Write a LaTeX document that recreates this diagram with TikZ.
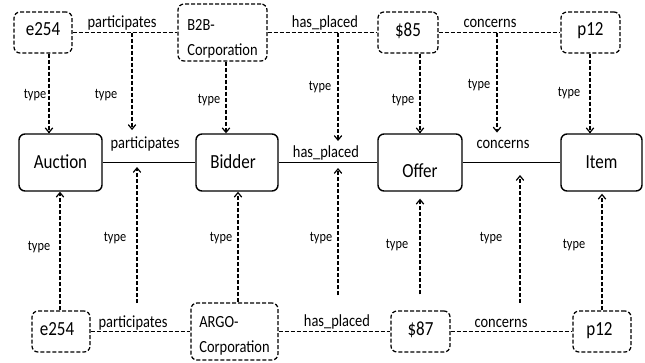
\documentclass[tikz,border=0pt]{standalone}
\usepackage{fontspec}
\setmainfont{Carlito}[FakeStretch=0.85]
\usetikzlibrary{arrows.meta,calc}
\newcommand{\bl}[2]{\raisebox{-#1}[0pt][0pt]{#2}}
\newcommand{\twol}[3]{\raisebox{#1}[0pt][0pt]{\begin{tabular}[t]{@{}l@{}}#2\\#3\end{tabular}}}
\begin{document}
\begin{tikzpicture}[x=1pt,y=-1pt,
  classbox/.style={draw, line width=1.4pt, rounded corners=6pt, inner sep=0pt, font=\fontsize{20}{24}\selectfont},
  instbox/.style={draw, line width=1.25pt, dash pattern=on 4pt off 2pt, rounded corners=6pt, inner sep=0pt, font=\fontsize{20}{24}\selectfont},
  corpfont/.style={font=\fontsize{17}{25}\selectfont},
  rel/.style={line width=1.3pt},
  instrel/.style={line width=1.25pt, dash pattern=on 4pt off 2pt},
  typearrow/.style={line width=1.25pt, dash pattern=on 4pt off 2pt, -{Straight Barb[length=4.5pt,width=7.5pt,line width=1.2pt]}},
  rellabel/.style={font=\fontsize{17}{20}\selectfont, inner sep=0pt, anchor=base},
  typelabel/.style={font=\fontsize{14.5}{17}\selectfont, inner sep=0pt}
]
\fill[white] (0,0) rectangle (645,362);
\useasboundingbox (0,0) rectangle (645,362);

% top instance row
\node[instbox, minimum width=58pt, minimum height=41pt] (e254t) at (43,32.5) {\bl{2.5pt}{e254}};
\node[instbox, corpfont, minimum width=89pt, minimum height=57pt] (b2b) at (222.5,32.5) {\twol{2.5pt}{B2B-}{Corporation}\hspace{6pt}};
\node[instbox, minimum width=60pt, minimum height=41pt] (p85) at (408,32.5) {\bl{3.5pt}{\$85}};
\node[instbox, minimum width=59pt, minimum height=41pt] (p12t) at (590.5,32.5) {\bl{2.5pt}{p12}};

% class row
\node[classbox, minimum width=83pt, minimum height=57pt] (auction) at (60.5,162.5) {\bl{5.5pt}{Auction}};
\node[classbox, minimum width=82pt, minimum height=57pt] (bidder) at (237,162.5) {\bl{5.5pt}{Bidder\hspace{8pt}}};
\node[classbox, minimum width=84pt, minimum height=57pt] (offer) at (420,162.5) {\bl{14.5pt}{Offer}};
\node[classbox, minimum width=81pt, minimum height=57pt] (item) at (601.5,162.5) {\bl{5.5pt}{Item}};

% bottom instance row
\node[instbox, minimum width=58pt, minimum height=41pt] (e254b) at (61,331.5) {\bl{3.5pt}{e254\hspace{8pt}}};
\node[instbox, corpfont, minimum width=87pt, minimum height=57pt] (argo) at (234.5,331.5) {\twol{4.5pt}{ARGO-}{Corporation}\hspace{4pt}};
\node[instbox, minimum width=59pt, minimum height=41pt] (p87) at (420.5,331.5) {\bl{3.5pt}{\$87}};
\node[instbox, minimum width=58pt, minimum height=41pt] (p12b) at (602,331.5) {\bl{3.5pt}{p12\hspace{5pt}}};

% connectors
\draw[instrel] (e254t) -- (b2b);
\draw[instrel] (b2b) -- (p85);
\draw[instrel] (p85) -- (p12t);
\draw[rel] (auction) -- (bidder);
\draw[rel] (bidder) -- (offer);
\draw[rel] (offer) -- (item);
\draw[instrel] (e254b) -- (argo);
\draw[instrel] (argo) -- (p87);
\draw[instrel] (p87) -- (p12b);

% relation labels
\node[rellabel] (plabT) at (122,27) {participates};
\node[rellabel] (hlabT) at (325,27) {has\_placed};
\node[rellabel] (clabT) at (490,27) {concerns};
\node[rellabel] (plabM) at (145,148) {participates};
\node[rellabel] (hlabM) at (326,157) {has\_placed};
\node[rellabel] (clabM) at (503,148) {concerns};
\node[rellabel] (plabB) at (133,327) {participates};
\node[rellabel] (hlabB) at (337,326) {has\_placed};
\node[rellabel] (clabB) at (501,327) {concerns};

% x positions of type arrows
\coordinate (t1) at (49,0);
\coordinate (t2) at (132,0);
\coordinate (t3) at (226,0);
\coordinate (t4) at (338,0);
\coordinate (t5) at (420,0);
\coordinate (t6) at (497,0);
\coordinate (t7) at (590,0);
\coordinate (b1) at (60,0);
\coordinate (b2) at (137,0);
\coordinate (b3) at (238,0);
\coordinate (b4) at (338,0);
\coordinate (b5) at (420,0);
\coordinate (b6) at (520,0);
\coordinate (b7) at (602,0);

% top type arrows
\draw[typearrow] (e254t.south -| t1) -- (auction.north -| t1);
\draw[typearrow, shorten >=6pt] (t2 |- e254t.east) -- (t2 |- plabM.north);
\draw[typearrow] (b2b.south -| t3) -- (bidder.north -| t3);
\draw[typearrow, shorten >=4pt] (t4 |- p85.west) -- (t4 |- hlabM.north);
\draw[typearrow] (p85.south -| t5) -- (offer.north -| t5);
\draw[typearrow, shorten >=7pt] (t6 |- p85.east) -- (t6 |- clabM.north);
\draw[typearrow] (p12t.south -| t7) -- (item.north -| t7);

% bottom type arrows
\draw[typearrow] (e254b.north -| b1) -- (auction.south -| b1);
\draw[typearrow, shorten <=12pt, shorten >=4.5pt] (b2 |- plabB.north) -- (b2 |- auction.east);
\draw[typearrow] (argo.north -| b3) -- (bidder.south -| b3);
\draw[typearrow, shorten <=19pt, shorten >=5.5pt] (b4 |- hlabB.north) -- (b4 |- bidder.east);
\draw[typearrow, shorten <=16pt, shorten >=7pt] (p87.north -| b5) -- (offer.south -| b5);
\draw[typearrow, shorten <=16pt, shorten >=12.5pt] (b6 |- clabB.north) -- (b6 |- offer.east);
\draw[typearrow, shorten >=2pt] (p12b.north -| b7) -- (item.south -| b7);

% type labels
\foreach \p/\n in {{(35,95)}/ty1, {(106,95)}/ty2, {(209,100)}/ty3, {(320,87)}/ty4, {(403,100)}/ty5, {(479,85)}/ty6, {(569,93)}/ty7,
                   {(39,247)}/ty8, {(115,238)}/ty9, {(221,238)}/ty10, {(321,238)}/ty11, {(397,245)}/ty12, {(491,238)}/ty13, {(574,245)}/ty14}
  \node[typelabel] (\n) at \p {type};
\end{tikzpicture}
\end{document}
